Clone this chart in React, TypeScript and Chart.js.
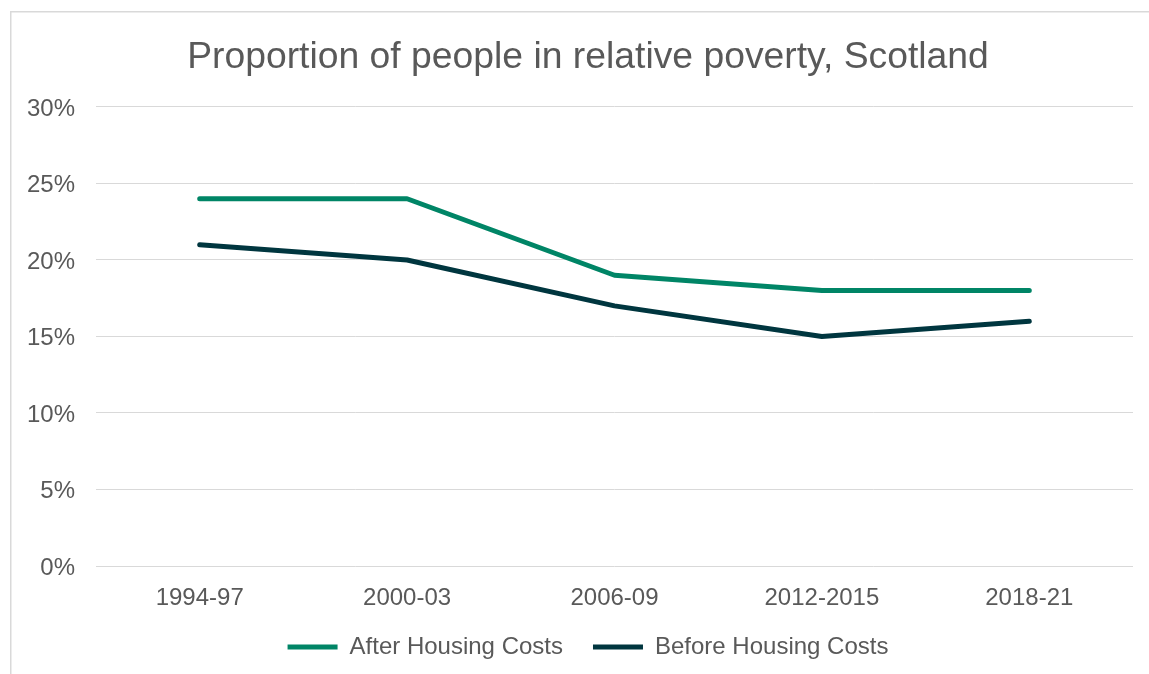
import React, { useEffect, useRef } from 'react';
import { Chart, registerables } from 'chart.js';

Chart.register(...registerables);

const periods = ['1994-97', '2000-03', '2006-09', '2012-2015', '2018-21'];
const afterHousingCosts = [24, 24, 19, 18, 18];
const beforeHousingCosts = [21, 20, 17, 15, 16];
const yMin = 0;
const yMax = 30;
const yStep = 5;

const FONT = '"Liberation Sans", Arial, Helvetica, sans-serif';
const TEXT = '#595959';
const GRID = '#d9d9d9';
const GREEN = '#008566';
const DARK = '#00363f';

const framePlugin = {
  id: 'frame',
  beforeDraw(chart: any) {
    const ctx = chart.ctx;
    ctx.save();
    ctx.fillStyle = '#ffffff';
    ctx.fillRect(0, 0, chart.width, chart.height);
    ctx.strokeStyle = GRID;
    ctx.lineWidth = 1.5;
    ctx.beginPath();
    ctx.moveTo(10.75, chart.height + 5);
    ctx.lineTo(10.75, 11.75);
    ctx.lineTo(chart.width + 5, 11.75);
    ctx.stroke();
    ctx.restore();
  },
};

export default function App() {
  const ref = useRef<HTMLCanvasElement | null>(null);

  useEffect(() => {
    if (!ref.current) return;
    const chart = new Chart(ref.current, {
      type: 'line',
      data: {
        labels: periods,
        datasets: [
          {
            label: 'After Housing Costs',
            data: afterHousingCosts,
            borderColor: GREEN,
            backgroundColor: GREEN,
            borderWidth: 5,
            borderCapStyle: 'round',
            borderJoinStyle: 'round',
            pointRadius: 0,
            pointHoverRadius: 0,
            tension: 0,
            fill: false,
          },
          {
            label: 'Before Housing Costs',
            data: beforeHousingCosts,
            borderColor: DARK,
            backgroundColor: DARK,
            borderWidth: 5,
            borderCapStyle: 'round',
            borderJoinStyle: 'round',
            pointRadius: 0,
            pointHoverRadius: 0,
            tension: 0,
            fill: false,
          },
        ],
      },
      options: {
        responsive: false,
        animation: false,
        devicePixelRatio: 1,
        layout: { padding: { left: 43, right: 16, top: 0, bottom: 5 } },
        plugins: {
          title: {
            display: true,
            text: 'Proportion of people in relative poverty, Scotland',
            color: TEXT,
            font: { family: FONT, size: 37.3, weight: 'normal', lineHeight: 1.2 },
            padding: { top: 35.5, bottom: 26.7 },
          },
          legend: {
            display: true,
            position: 'bottom',
            labels: {
              usePointStyle: true,
              pointStyle: 'line',
              pointStyleWidth: 50,
              color: TEXT,
              font: { family: FONT, size: 24 },
              padding: 30,
            },
          },
          tooltip: { enabled: false },
        },
        scales: {
          x: {
            offset: true,
            grid: { display: false },
            border: { display: false },
            ticks: {
              color: TEXT,
              font: { family: FONT, size: 24 },
              padding: 10,
              maxRotation: 0,
            },
            afterFit(scale: any) {
              scale.height = 39;
            },
          },
          y: {
            min: yMin,
            max: yMax,
            grid: { color: GRID, lineWidth: 1, drawTicks: false },
            border: { display: false },
            ticks: {
              stepSize: yStep,
              color: TEXT,
              font: { family: FONT, size: 24 },
              mirror: true,
              crossAlign: 'far',
              padding: -69,
              labelOffset: 2,
              callback: (v: any) => v + '%',
            },
            afterFit(scale: any) {
              scale.width = 53;
            },
          },
        },
      },
      plugins: [framePlugin],
    });
    return () => chart.destroy();
  }, []);

  return (
    <div style={{ position: 'fixed', left: 0, top: 0, width: 1149, height: 674, background: '#fff' }}>
      <canvas ref={ref} width={1149} height={674} style={{ display: 'block', width: 1149, height: 674 }} />
    </div>
  );
}
